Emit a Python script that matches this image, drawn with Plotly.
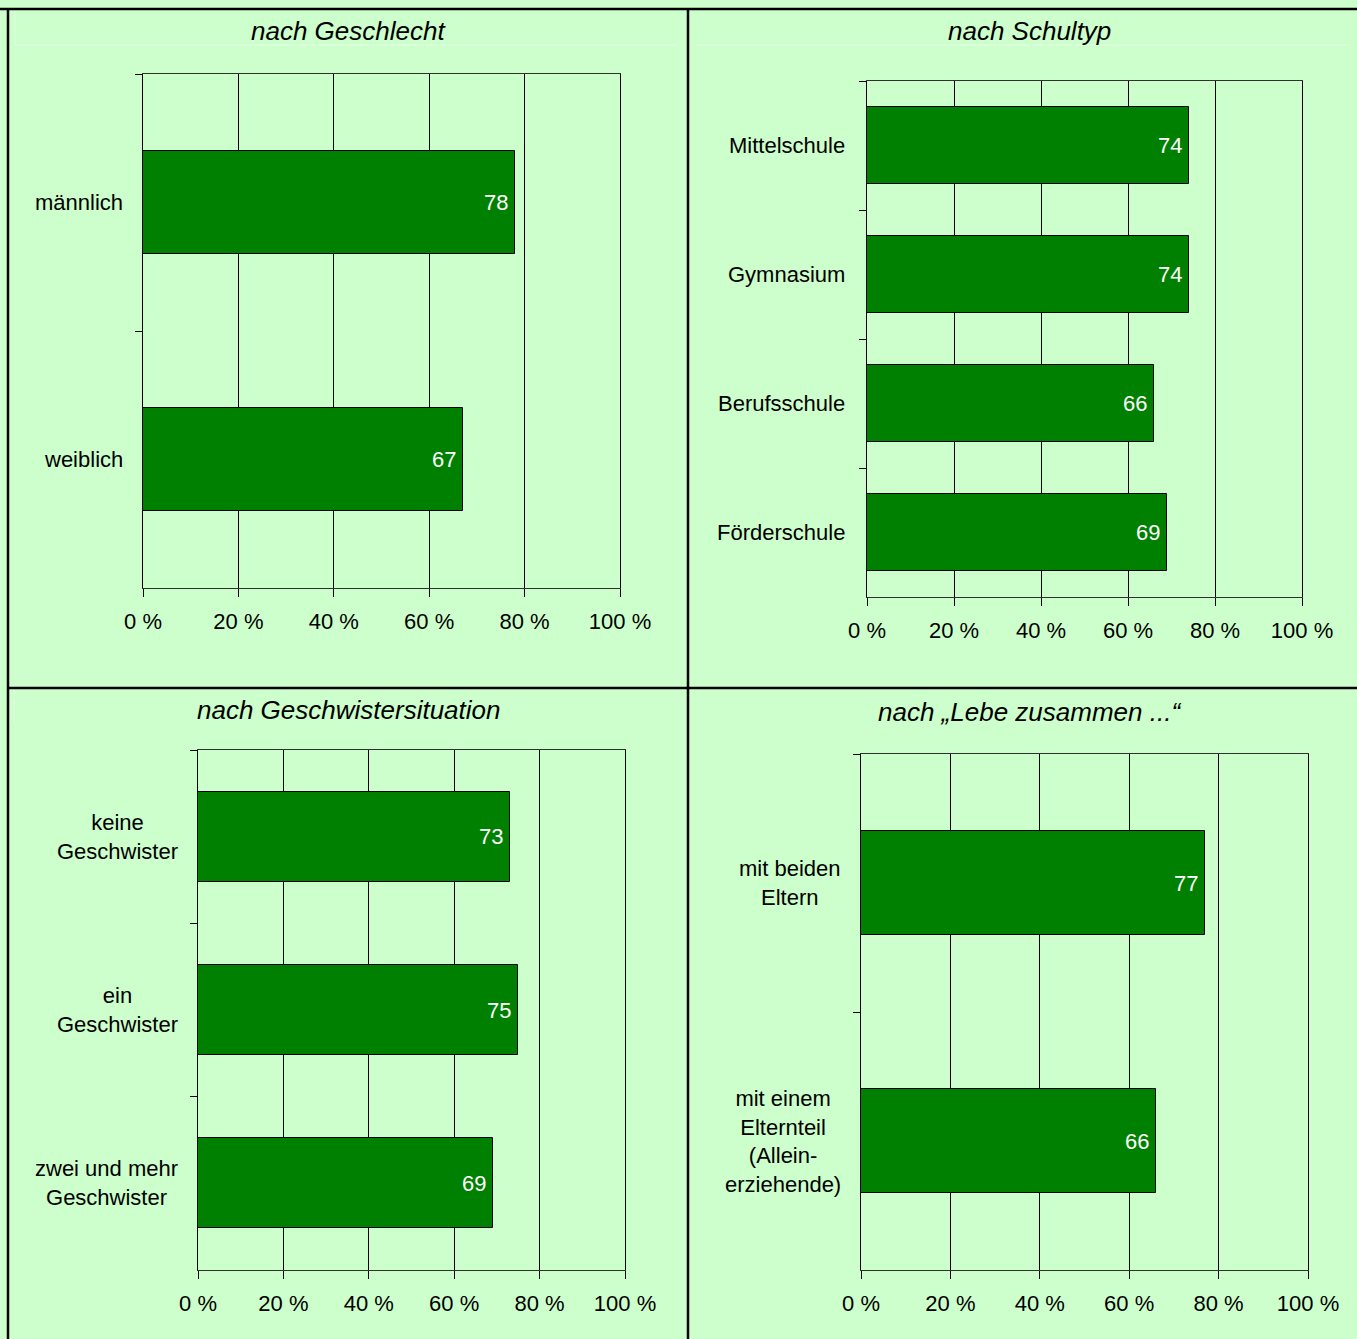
import plotly.graph_objects as go

W, H = 1357, 1339

# ---- data -------------------------------------------------------------
geschlecht_cats = ["männlich", "weiblich"]
geschlecht_vals = [78, 67]

schultyp_cats = ["Mittelschule", "Gymnasium", "Berufsschule", "Förderschule"]
schultyp_vals = [74, 74, 66, 69]

geschwister_cats = ["keine<br>Geschwister", "ein<br>Geschwister", "zwei und mehr<br>Geschwister"]
geschwister_vals = [73, 75, 69]

lebe_cats = ["mit beiden<br>Eltern", "mit einem<br>Elternteil<br>(Allein-<br>erziehende)"]
lebe_vals = [77, 66]

tick_vals = [0, 20, 40, 60, 80, 100]
tick_text = ["0 %", "20 %", "40 %", "60 %", "80 %", "100 %"]

titles = ["nach Geschlecht", "nach Schultyp", "nach Geschwistersituation", "nach \u201eLebe zusammen ...\u201c"]

# ---- styling ----------------------------------------------------------
BG = "#CCFFCC"
BAR = "#008000"
FONT = "Liberation Sans, Arial, sans-serif"


def px_x(p):
    return p / W


def px_y(p):
    return 1 - p / H


# plot areas in pixels: (left, right, top, bottom), label right edge, bar width, title centre
panels = [
    dict(cats=geschlecht_cats, vals=geschlecht_vals, box=(143, 620, 74, 588), lab=125, bw=0.40,
         title=titles[0], tpos=(348, 31)),
    dict(cats=schultyp_cats, vals=schultyp_vals, box=(867, 1302, 81, 597), lab=847, bw=0.60,
         title=titles[1], tpos=(1029, 31)),
    dict(cats=geschwister_cats, vals=geschwister_vals, box=(198, 625, 750, 1270), lab=180, bw=0.52,
         title=titles[2], tpos=(348, 710)),
    dict(cats=lebe_cats, vals=lebe_vals, box=(861, 1308, 754, 1270), lab=843, bw=0.40,
         title=titles[3], tpos=(1029, 712)),
]

fig = go.Figure()
annotations = []
layout_axes = {}

for i, p in enumerate(panels, start=1):
    xa = "x" if i == 1 else f"x{i}"
    ya = "y" if i == 1 else f"y{i}"
    left, right, top, bottom = p["box"]
    n = len(p["cats"])

    fig.add_trace(go.Bar(
        x=p["vals"], y=p["cats"], orientation="h",
        xaxis=xa, yaxis=ya,
        width=p["bw"],
        marker=dict(color=BAR, line=dict(color="black", width=1)),
        hoverinfo="skip", showlegend=False,
    ))

    xkey = "xaxis" if i == 1 else f"xaxis{i}"
    ykey = "yaxis" if i == 1 else f"yaxis{i}"
    layout_axes[xkey] = dict(
        domain=[px_x(left), px_x(right)], anchor=ya,
        range=[0, 100], tickvals=tick_vals, ticktext=tick_text,
        showgrid=True, gridcolor="black", gridwidth=1, zeroline=False,
        showline=True, linecolor="#303030", linewidth=1, mirror=True,
        ticks="outside", ticklen=8, tickcolor="black", tickwidth=1,
        ticklabelstandoff=6, automargin=False,
        tickfont=dict(size=22, color="black", family=FONT),
        fixedrange=True,
    )
    layout_axes[ykey] = dict(
        domain=[px_y(bottom), px_y(top)], anchor=xa,
        type="category", categoryorder="array", categoryarray=p["cats"],
        range=[n - 0.5, -0.5],
        showgrid=False, zeroline=False,
        showline=True, linecolor="black", linewidth=1, mirror=True,
        ticks="outside", ticklen=7, tickcolor="black", tickson="boundaries",
        showticklabels=False, automargin=False, fixedrange=True,
    )

    # value labels inside the bar ends
    for c, v in zip(p["cats"], p["vals"]):
        annotations.append(dict(
            xref=xa, yref=ya, x=v, y=c, xanchor="right", yanchor="middle",
            xshift=-5, text=str(v), showarrow=False,
            font=dict(size=22, color="white", family=FONT),
        ))

    # category labels, centred lines, right edge next to the axis
    for c in p["cats"]:
        annotations.append(dict(
            xref="paper", yref=ya, x=px_x(p["lab"]), y=c,
            xanchor="right", yanchor="middle", align="center",
            text=c, showarrow=False,
            font=dict(size=22, color="black", family=FONT),
        ))

    # panel title
    annotations.append(dict(
        xref="paper", yref="paper", x=px_x(p["tpos"][0]), y=px_y(p["tpos"][1]),
        xanchor="center", yanchor="middle", text=p["title"], showarrow=False,
        font=dict(size=26, color="black", family=FONT, style="italic"),
    ))

# table frame around the four panels
shapes = []


def hline(y, x0, x1, color="black", width=2.5):
    shapes.append(dict(type="line", xref="paper", yref="paper",
                       x0=px_x(x0), x1=px_x(x1), y0=px_y(y), y1=px_y(y),
                       line=dict(color=color, width=width)))


def vline(x, y0, y1, color="black", width=2.5):
    shapes.append(dict(type="line", xref="paper", yref="paper",
                       x0=px_x(x), x1=px_x(x), y0=px_y(y0), y1=px_y(y1),
                       line=dict(color=color, width=width)))


hline(9, 0, W)
hline(688, 7, W)
vline(8, 9, H)
vline(688, 9, H)

# faint title-cell rules
hline(45, 15, 676, color="#E6FFE6", width=1)
hline(45, 696, 1350, color="#E6FFE6", width=1)
vline(15, 11, 45, color="#E6FFE6", width=1)
vline(14, 690, 724, color="#E6FFE6", width=1)

fig.update_layout(
    width=W, height=H,
    margin=dict(l=0, r=0, t=0, b=0, autoexpand=False),
    paper_bgcolor=BG, plot_bgcolor=BG,
    bargap=0,
    annotations=annotations,
    shapes=shapes,
    font=dict(family=FONT, color="black"),
    **layout_axes,
)

fig.write_html("out.html")
